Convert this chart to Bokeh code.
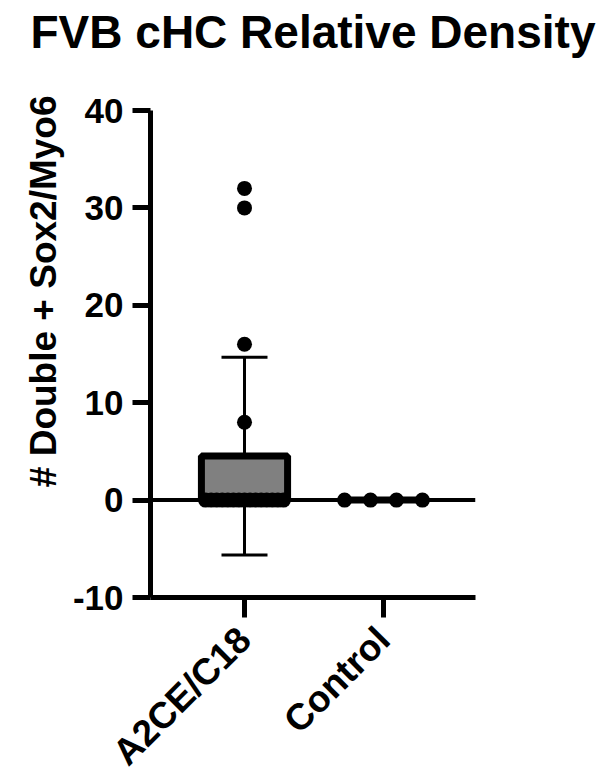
import numpy as np
from bokeh.plotting import figure
from bokeh.models import (Range1d, FixedTicker, ColumnDataSource, Whisker, TeeHead,
                          Span, Title, LinearAxis)
from bokeh.embed import file_html
from bokeh.resources import INLINE

# ---- data ----
categories = ["A2CE/C18", "Control"]
a2ce_values = [32, 30, 16, 8] + [0] * 15
control_values = [0, 0, 0, 0]
y_ticks = [-10, 0, 10, 20, 30, 40]
title_text = "FVB cHC Relative Density"
y_label = "# Double + Sox2/Myo6"

groups = [a2ce_values, control_values]
FONT = "Liberation Sans"

p = figure(frame_width=325, frame_height=487,
           min_border_left=150, min_border_right=125,
           min_border_top=110, min_border_bottom=177,
           x_range=Range1d(0.3237, 2.662), y_range=Range1d(-10, 40),
           output_backend="svg", toolbar_location=None,
           title=title_text)

xaxis = p.below[0]
yaxis = p.left[0]

p.title.text_font = FONT
p.title.text_font_size = "46px"
p.title.text_font_style = "bold"
p.title.align = "center"
p.title.text_color = "black"
p.title.standoff = 6

p.xgrid.visible = False
p.ygrid.visible = False
p.outline_line_color = None
p.background_fill_color = "white"
p.border_fill_color = "white"

# means / SD
xs = np.arange(1, len(groups) + 1)
means = [float(np.mean(g)) for g in groups]
sds = [float(np.std(g, ddof=1)) for g in groups]

p.add_layout(Span(location=0, dimension="width", line_color="black",
                  line_width=4, level="underlay"))

p.vbar(x=xs, top=means, bottom=0, width=0.62, fill_color="#808080",
       line_color="black", line_width=7)

# error bar only for group with spread
eb_x = [x for x, s in zip(xs, sds) if s > 0]
eb_up = [m + s for m, s in zip(means, sds) if s > 0]
eb_lo = [m - s for m, s in zip(means, sds) if s > 0]
eb_src = ColumnDataSource(dict(base=eb_x, upper=eb_up, lower=eb_lo))
p.add_layout(Whisker(source=eb_src, base="base", upper="upper", lower="lower",
                     line_color="black", line_width=3,
                     upper_head=TeeHead(size=46, line_width=3, line_color="black"),
                     lower_head=TeeHead(size=46, line_width=3, line_color="black")))

# scatter points, duplicates spread horizontally within bar
px, py = [], []
for x, g in zip(xs, groups):
    vals = np.array(g, dtype=float)
    for v in np.unique(vals):
        n = int(np.sum(vals == v))
        offs = np.linspace(-0.28, 0.28, n) if n > 1 else np.array([0.0])
        px.extend(list(x + offs))
        py.extend([v] * n)
p.scatter(px, py, size=15, fill_color="black", line_color=None)

# axes
for ax in (xaxis, yaxis):
    ax.axis_line_width = 5
    ax.axis_line_color = "black"
    ax.major_tick_line_width = 5
    ax.major_tick_line_color = "black"
    ax.major_tick_in = 0
    ax.minor_tick_line_color = None
    ax.major_label_text_font = FONT
    ax.major_label_text_font_size = "35px"
    ax.major_label_text_font_style = "bold"
    ax.major_label_text_color = "black"
    ax.major_label_standoff = 7

yaxis.major_tick_out = 18
yaxis.ticker = FixedTicker(ticks=y_ticks)
yaxis.major_label_overrides = {t: str(t) for t in y_ticks}
yaxis.major_label_standoff = 9

# y-axis title as a left-side title
ylab = Title(text=y_label, align="right", offset=-15, standoff=12,
             text_font=FONT, text_font_size="37px", text_font_style="bold",
             text_color="black")
p.add_layout(ylab, "left")

xaxis.major_tick_out = 20
xaxis.ticker = FixedTicker(ticks=list(xs))
xaxis.major_label_overrides = {int(x): c for x, c in zip(xs, categories)}
xaxis.major_label_orientation = np.pi / 4
xaxis.major_label_standoff = 16
xaxis.major_label_text_font_size = "37px"

# invisible spacer between title and plot area
spacer = LinearAxis(ticker=FixedTicker(ticks=[1]), axis_line_color=None,
                    major_tick_line_color=None, minor_tick_line_color=None,
                    major_tick_out=50, major_tick_in=0, minor_tick_out=0,
                    major_label_standoff=0, major_label_text_font_size="0px",
                    major_label_overrides={1: ""})
p.add_layout(spacer, "above")

open("out.html", "w").write(file_html(p, INLINE))
